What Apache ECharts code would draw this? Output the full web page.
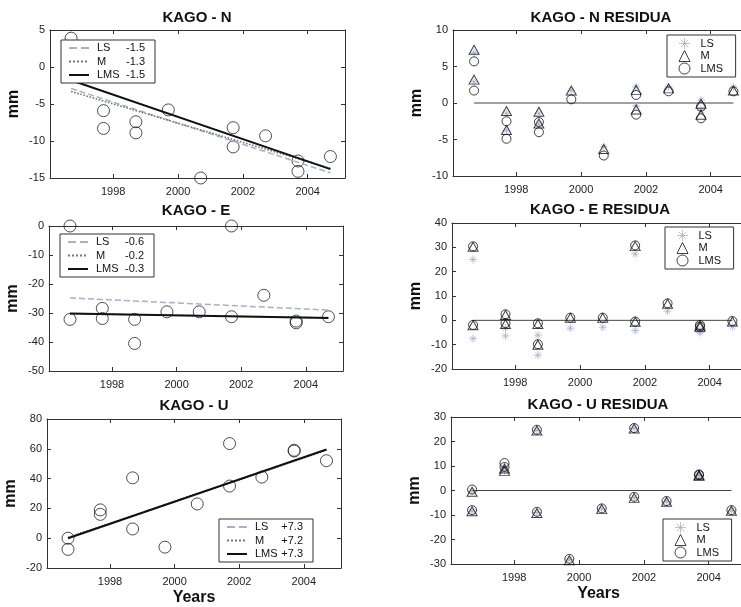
<!DOCTYPE html>
<html><head><meta charset="utf-8">
<script src="https://cdn.jsdelivr.net/npm/echarts@6/dist/echarts.min.js"></script>
<style>html,body{margin:0;padding:0;background:#fff}#c{width:741px;height:607px}</style>
</head><body><div id="c"></div>
<script>
// ---------- data ----------
const epochs = [1996.7, 1996.7, 1997.7, 1997.7, 1998.7, 1998.7, 1999.7, 2000.7, 2001.7, 2001.7, 2002.7, 2003.7, 2003.7, 2004.7];
const lineEnds = [1996.7, 2004.7];
const xTickLabels = [1998, 2000, 2002, 2004];
const methods = ['LS', 'M', 'LMS'];

const nObs = [3.9, -0.1, -5.9, -8.3, -7.4, -8.9, -5.8, -15.0, -8.2, -10.8, -9.3, -12.7, -14.1, -12.1];
const nLineLS = [-2.9, -14.3];
const nLineM = [-3.3, -13.7];
const nLineLMS = [-1.8, -13.8];
const nRates = ['-1.5', '-1.3', '-1.5'];
const nResLS = [6.9, 2.9, -1.4, -3.8, -1.4, -2.9, 1.7, -6.0, 2.2, -0.4, 2.2, 0.4, -1.0, 2.2];
const nResM = [7.3, 3.2, -1.1, -3.7, -1.2, -2.8, 1.7, -6.3, 1.8, -0.9, 2.0, -0.1, -1.6, 1.7];
const nResLMS = [5.7, 1.7, -2.5, -4.9, -2.6, -4.0, 0.5, -7.2, 1.1, -1.6, 1.6, -0.5, -2.1, 1.6];

const eObs = [0, -32.2, -28.4, -31.9, -32.2, -40.5, -29.6, -29.6, 0, -31.3, -23.9, -32.8, -33.4, -31.3];
const eLineLS = [-24.8, -29.0];
const eLineM = [-30.3, -31.6];
const eLineLMS = [-30.2, -31.7];
const eRates = ['-0.6', '-0.2', '-0.3'];
const eResLS = [25.0, -7.5, -3.2, -6.4, -6.1, -14.3, -3.2, -2.8, 27.3, -4.2, 3.8, -4.4, -5.0, -2.6];
const eResM = [30.2, -2.0, 2.2, -1.5, -1.5, -10.0, 1.0, 1.0, 30.5, -0.6, 6.8, -2.1, -2.8, -0.5];
const eResLMS = [30.4, -1.9, 2.5, -1.2, -1.2, -9.8, 1.1, 1.1, 30.8, -0.5, 7.0, -1.9, -2.6, -0.3];

const uObs = [0, -7.5, 19.0, 16.0, 40.5, 6.2, -6.0, 23.0, 63.5, 35.0, 41.0, 59.0, 58.5, 52.0];
const uLineLS = [0.2, 59.5];
const uLineM = [0.5, 59.0];
const uLineLMS = [0.0, 59.5];
const uRates = ['+7.3', '+7.2', '+7.3'];
const uResLS = [-0.3, -8.4, 9.3, 8.2, 24.6, -9.0, -28.3, -7.5, 25.4, -2.9, -4.5, 6.3, 6.1, -8.2];
const uResM = [-0.5, -8.5, 9.0, 8.0, 24.5, -9.2, -28.5, -7.6, 25.3, -3.0, -4.6, 6.2, 6.0, -8.3];
const uResLMS = [0.4, -8.0, 11.2, 9.6, 24.8, -8.7, -27.9, -7.3, 25.5, -2.6, -4.3, 6.6, 6.3, -8.0];

const nTicks = [-15, -10, -5, 0, 5];
const nResTicks = [-10, -5, 0, 5, 10];
const eTicks = [-50, -40, -30, -20, -10, 0];
const eResTicks = [-20, -10, 0, 10, 20, 30, 40];
const uTicks = [-20, 0, 20, 40, 60, 80];
const uResTicks = [-30, -20, -10, 0, 10, 20, 30];

const titles = ['KAGO - N', 'KAGO - N RESIDUA', 'KAGO - E', 'KAGO - E RESIDUA', 'KAGO - U', 'KAGO - U RESIDUA'];

// ---------- layout / style ----------
const FONT = 'Liberation Sans, Arial, sans-serif';
const grids = [
  {left: 50, top: 30, width: 295, height: 148},
  {left: 453, top: 30, width: 295, height: 146},
  {left: 49, top: 226, width: 294, height: 145},
  {left: 452, top: 223, width: 295, height: 146},
  {left: 47, top: 419, width: 294, height: 149},
  {left: 451, top: 417, width: 295, height: 147}
];
const titlePos = [[197, 10], [601, 10], [196, 203], [600, 202], [194, 398], [598, 397]];
const legendPos = [[61, 40], [667, 35], [60, 234], [665, 227], [219, 519], [663, 519]];
const LS_COLOR = '#a9aed0';
const AX = '#333';
const ASTERISK = 'path://M0,5L10,5M5,0L5,10M1.6,1.6L8.4,8.4M8.4,1.6L1.6,8.4';

const panels = [
  {kind: 'fit', key: 'n', obs: nObs, lines: [nLineLS, nLineM, nLineLMS], rates: nRates, ticks: nTicks},
  {kind: 'res', key: 'nr', res: [nResLS, nResM, nResLMS], ticks: nResTicks},
  {kind: 'fit', key: 'e', obs: eObs, lines: [eLineLS, eLineM, eLineLMS], rates: eRates, ticks: eTicks},
  {kind: 'res', key: 'er', res: [eResLS, eResM, eResLMS], ticks: eResTicks},
  {kind: 'fit', key: 'u', obs: uObs, lines: [uLineLS, uLineM, uLineLMS], rates: uRates, ticks: uTicks},
  {kind: 'res', key: 'ur', res: [uResLS, uResM, uResLMS], ticks: uResTicks}
];

const option = {
  animation: false,
  backgroundColor: '#fff',
  title: [], grid: [], xAxis: [], yAxis: [], legend: [], series: []
};

const labelMap = {};

panels.forEach((p, i) => {
  const g = grids[i];
  option.grid.push(Object.assign({containLabel: false, outerBoundsMode: 'none'}, g));
  option.title.push({
    text: titles[i], left: titlePos[i][0], top: titlePos[i][1], textAlign: 'center', padding: 0,
    textStyle: {fontFamily: FONT, fontSize: 15, fontWeight: 'bold', color: '#111'}
  });
  const bottomRow = i >= 4;
  const xBase = {
    type: 'value', gridIndex: i, min: 1996.05, max: 2005.15,
    splitLine: {show: false},
    axisLine: {show: true, onZero: false, lineStyle: {color: AX, width: 1}},
    axisTick: {show: true, inside: true, length: 4, lineStyle: {color: AX}, customValues: xTickLabels}
  };
  option.xAxis.push(Object.assign({}, xBase, {
    position: 'bottom',
    axisLabel: {show: true, customValues: xTickLabels, formatter: v => String(v), margin: 8,
      fontFamily: FONT, fontSize: 11, color: '#222'},
    name: bottomRow ? 'Years' : '', nameLocation: 'middle', nameGap: 22,
    nameTextStyle: {fontFamily: FONT, fontSize: 16, fontWeight: 'bold', color: '#111'}
  }));
  option.xAxis.push(Object.assign({}, xBase, {position: 'top', axisLabel: {show: false}}));
  const t = p.ticks;
  const yBase = {
    type: 'value', gridIndex: i, min: t[0], max: t[t.length - 1], interval: t[1] - t[0],
    splitLine: {show: false},
    axisLine: {show: true, onZero: false, lineStyle: {color: AX, width: 1}},
    axisTick: {show: true, inside: true, length: 4, lineStyle: {color: AX}}
  };
  option.yAxis.push(Object.assign({}, yBase, {
    position: 'left',
    axisLabel: {show: true, margin: 5, fontFamily: FONT, fontSize: 11, color: '#222'},
    name: 'mm', nameLocation: 'middle', nameRotate: 90, nameGap: 28,
    nameTextStyle: {fontFamily: FONT, fontSize: 16, fontWeight: 'bold', color: '#111'}
  }));
  option.yAxis.push(Object.assign({}, yBase, {position: 'right', axisLabel: {show: false}}));

  const xi = 2 * i, yi = 2 * i;
  const names = methods.map(m => p.key + m);
  if (p.kind === 'fit') {
    option.series.push({
      type: 'scatter', xAxisIndex: xi, yAxisIndex: yi, name: p.key + 'obs',
      data: epochs.map((tt, k) => [tt, p.obs[k]]),
      symbol: 'circle', symbolSize: 12,
      itemStyle: {color: 'rgba(0,0,0,0)', borderColor: '#222', borderWidth: 1}, z: 2
    });
    const lStyles = [
      {color: LS_COLOR, width: 1.5, type: 'dashed'},
      {color: '#777', width: 1.6, type: 'dotted'},
      {color: '#111', width: 2, type: 'solid'}
    ];
    methods.forEach((m, k) => {
      labelMap[names[k]] = '{n|' + m + '}{v|' + p.rates[k] + '}';
      option.series.push({
        type: 'line', xAxisIndex: xi, yAxisIndex: yi, name: names[k],
        data: lineEnds.map((tt, j) => [tt, p.lines[k][j]]),
        symbol: 'none', lineStyle: lStyles[k], itemStyle: {color: lStyles[k].color}, z: 3
      });
    });
    option.legend.push({
      left: legendPos[i][0], top: legendPos[i][1], orient: 'vertical', data: names,
      selectedMode: false, itemWidth: 20, itemHeight: 12, itemGap: 0.5,
      padding: [1.5, 10, 1.5, 7], borderColor: '#333', borderWidth: 1, borderRadius: 0,
      backgroundColor: '#fff', z: 10,
      itemStyle: {opacity: 0},
      formatter: nm => labelMap[nm],
      textStyle: {fontFamily: FONT, fontSize: 11, color: '#111', lineHeight: 13,
        rich: {n: {width: 26, padding: [0, 0, 0, 3], fontSize: 11, fontFamily: FONT, color: '#111'},
               v: {width: 22, align: 'right', fontSize: 11, fontFamily: FONT, color: '#111'}}}
    });
  } else {
    option.series.push({
      type: 'line', xAxisIndex: xi, yAxisIndex: yi, name: p.key + 'zero',
      data: lineEnds.map(tt => [tt, 0]), symbol: 'none', silent: true,
      lineStyle: {color: '#444', width: 1}, z: 1
    });
    const syms = [ASTERISK, 'triangle', 'circle'];
    const sizes = [8, [10, 9], 9];
    const cols = [LS_COLOR, '#111', '#111'];
    methods.forEach((m, k) => {
      labelMap[names[k]] = '{a|' + m + '}';
      option.series.push({
        type: 'scatter', xAxisIndex: xi, yAxisIndex: yi, name: names[k],
        data: epochs.map((tt, j) => [tt, p.res[k][j]]),
        symbol: syms[k], symbolSize: sizes[k],
        itemStyle: {color: 'rgba(0,0,0,0)', borderColor: cols[k], borderWidth: 1}, z: 2 + k
      });
    });
    option.legend.push({
      left: legendPos[i][0], top: legendPos[i][1], orient: 'vertical', data: names,
      selectedMode: false, itemWidth: 11, itemHeight: 11, itemGap: 0.5,
      padding: [2.5, 12.5, 2.5, 11.5], borderColor: '#333', borderWidth: 1, borderRadius: 0,
      backgroundColor: '#fff', z: 10,
      itemStyle: {borderWidth: 1, color: 'rgba(0,0,0,0)'},
      formatter: nm => labelMap[nm],
      textStyle: {fontFamily: FONT, fontSize: 11, color: '#111', lineHeight: 12,
        rich: {a: {padding: [0, 0, 0, 5.5], fontSize: 11, fontFamily: FONT, color: '#111'}}}
    });
  }
});

const chart = echarts.init(document.getElementById('c'), null, {renderer: 'canvas'});
chart.setOption(option);
</script>
</body></html>
